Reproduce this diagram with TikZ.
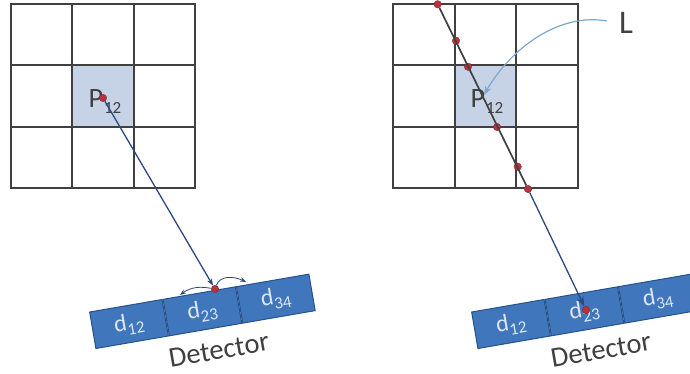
\documentclass[tikz,border=0pt]{standalone}
\usepackage{xcolor}
\usepackage{fontspec}
\setmainfont{Carlito}
\usetikzlibrary{positioning, arrows.meta, bending}
\definecolor{gridline}{HTML}{404040}
\definecolor{pixelblue}{HTML}{C6D3E6}
\definecolor{detblue}{HTML}{3F76BC}
\definecolor{detborder}{HTML}{27528A}
\definecolor{dotred}{HTML}{B8323C}
\definecolor{rayblue}{HTML}{2A4A7F}
\definecolor{labelblue}{HTML}{7FA6CE}
\definecolor{celltext}{HTML}{DCE6F2}
\newcommand{\subnum}[2]{#1\kern1pt\lower#2\hbox{\fontsize{17}{17}\selectfont 12}}
\newcommand{\subidx}[1]{d\lower5pt\hbox{\fontsize{17}{17}\selectfont #1}}
\tikzset{
  gridcell/.style={draw=gridline, line width=2pt, minimum size=61.5pt, inner sep=0pt},
  detcell/.style={draw=detborder, line width=1pt, fill=detblue, text=celltext, rotate=9.8,
    minimum width=73.5pt, minimum height=37pt, inner sep=0pt, font=\fontsize{24}{24}\selectfont},
  hitdot/.style={circle, fill=dotred, draw=dotred!70!black, line width=0.3pt, minimum size=7.5pt, inner sep=0pt},
  pixellabel/.style={text=gridline, inner sep=0pt, font=\fontsize{28}{28}\selectfont},
  detlabel/.style={text=gridline, rotate=9.8, inner sep=0pt, font=\fontsize{28.5}{29}\selectfont},
}
\begin{document}
\begin{tikzpicture}[x=1pt, y=-1pt]
  \useasboundingbox (0,0) rectangle (690,374);
  \clip (0,0) rectangle (690,374);
  % left pixel grid
  \foreach \row in {0,1,2}
    \foreach \col in {0,1,2}
      \node[gridcell] (la\row\col) at (41.7+61.5*\col, 34.7+61.5*\row) {};
  \node[gridcell, fill=pixelblue] (lpix) at (la11) {};
  \node[pixellabel] (lp) at (105,102) {\subnum{P}{6pt}};
  % left detector
  \node[detcell] (ld12) at (129,324) {\subidx{12}};
  \node[detcell, anchor=west] (ld23) at (ld12.east) {\subidx{23}};
  \node[detcell, anchor=west] (ld34) at (ld23.east) {\subidx{34}};
  \node[detlabel] (ldet) at (219,350) {Detector};
  \node[hitdot] (lsrc) at (103,98) {};
  \node[hitdot] (lhit) at (215,289) {};
  \coordinate (lleft) at (180,295);
  \coordinate (lright) at (246,282);
  \draw[rayblue, line width=1.3pt, -{Stealth[length=7pt]}] (lsrc) -- (lhit);
  \draw[rayblue, line width=0.8pt, -{Stealth[length=6pt, bend]}] (lhit) to[out=170, in=40] (lleft);
  \draw[rayblue, line width=0.8pt, -{Stealth[length=6pt, bend]}] (lhit) to[out=70, in=150] (lright);

  % right pixel grid
  \foreach \row in {0,1,2}
    \foreach \col in {0,1,2}
      \node[gridcell] (ra\row\col) at (424.2+61.5*\col, 34.7+61.5*\row) {};
  \node[gridcell, fill=pixelblue] (rpix) at (ra11) {};
  \node[pixellabel] (rp) at (487,102) {\subnum{P}{6pt}};
  % right detector
  \node[detcell] (rd12) at (511,324) {\subidx{12}};
  \node[detcell, anchor=west] (rd23) at (rd12.east) {\subidx{23}};
  \node[detcell, anchor=west] (rd34) at (rd23.east) {\subidx{34}};
  \node[detlabel] (rdet) at (601,350) {Detector};
  % points along the ray
  \foreach \name/\px/\py in {r1/437.7/4.3, r2/456/40.7, r3/468/66.7, r4/497/127, r5/517.7/166.7, r6/528/189}
    \node[hitdot] (\name) at (\px,\py) {};
  \node[hitdot] (rhit) at (586,310) {};
  \draw[gridline, line width=1.7pt] (r1) -- (r6);
  \draw[rayblue, line width=1.3pt, -{Stealth[length=10pt, width=7pt]}] (r6) -- (rhit);
  \node[text=gridline, inner sep=0pt, font=\fontsize{33}{33}\selectfont] (ltext) at (626,23) {L};
  \coordinate (lstart) at (607,21);
  \coordinate (lend) at (484,95);
  \draw[labelblue, line width=1.2pt, -{Stealth[length=9pt]}] (lstart) to[out=170, in=62, looseness=0.9] (lend);
\end{tikzpicture}
\end{document}
